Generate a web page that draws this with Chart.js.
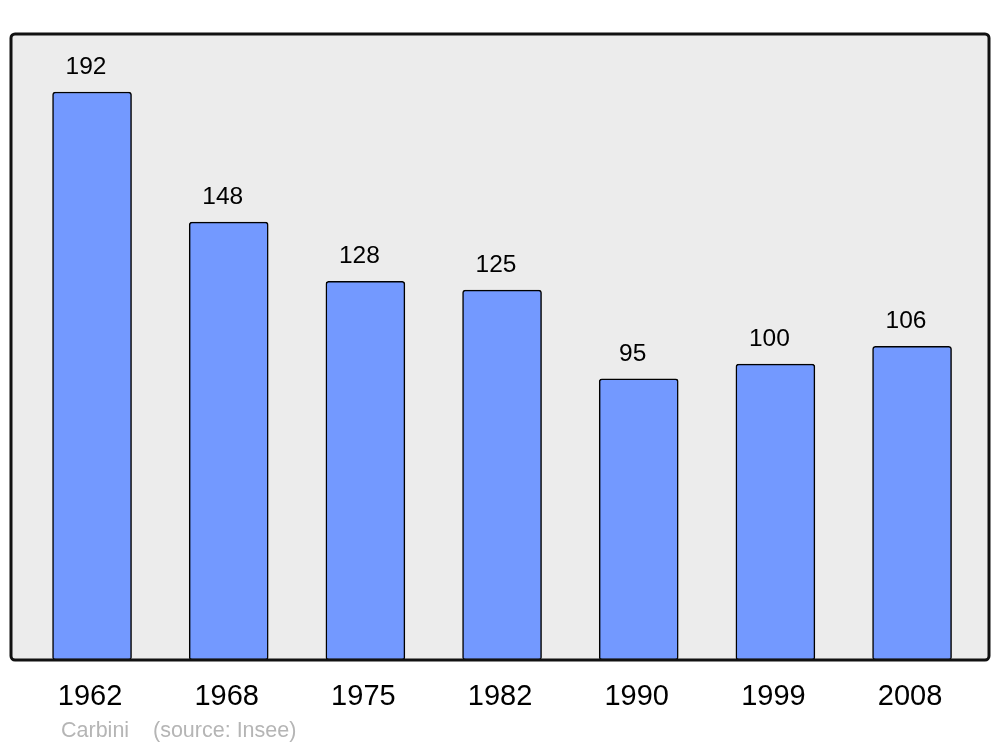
<!DOCTYPE html>
<html>
<head>
<meta charset="utf-8">
<script src="https://cdn.jsdelivr.net/npm/chart.js@4/dist/chart.umd.min.js"></script>
<style>
  html, body { margin: 0; padding: 0; background: #fff; }
  #wrap { width: 1000px; height: 747px; }
</style>
</head>
<body>
<div id="wrap"><canvas id="myChart" width="1000" height="747"></canvas></div>
<script>
const years = ['1962', '1968', '1975', '1982', '1990', '1999', '2008'];
const population = [192, 148, 128, 125, 95, 100, 106];
const townName = 'Carbini';
const sourceText = '(source: Insee)';

// background box + labels, all placed from the chart's scales
const decorations = {
    id: 'decorations',
    beforeDatasetsDraw(chart) {
        const { ctx, chartArea: a } = chart;
        ctx.save();
        ctx.beginPath();
        ctx.roundRect(a.left, a.top, a.right - a.left, a.bottom - a.top, 4);
        ctx.fillStyle = '#ececec';
        ctx.fill();
        ctx.restore();
    },
    afterDatasetsDraw(chart) {
        const { ctx, chartArea: a, scales } = chart;
        ctx.save();
        ctx.beginPath();
        ctx.roundRect(a.left, a.top, a.right - a.left, a.bottom - a.top, 4);
        ctx.lineWidth = 3;
        ctx.strokeStyle = '#111';
        ctx.stroke();

        ctx.textAlign = 'center';
        ctx.textBaseline = 'middle';
        ctx.fillStyle = '#000';
        population.forEach((v, i) => {
            const x = scales.x.getPixelForValue(i);
            ctx.font = '24.5px "Liberation Sans", Arial, sans-serif';
            ctx.fillText(String(v), x - 6, scales.y.getPixelForValue(v) - 25);
            ctx.font = '29px "Liberation Sans", Arial, sans-serif';
            ctx.fillText(years[i], x - 2, 697);
        });

        ctx.textAlign = 'left';
        ctx.fillStyle = '#b5b5b5';
        ctx.font = '21.5px "Liberation Sans", Arial, sans-serif';
        ctx.fillText(townName, 61, 731);
        ctx.fillText(sourceText, 153, 731);
        ctx.restore();
    }
};

let ctx = document.getElementById('myChart').getContext('2d');
let chart = new Chart(ctx, {
    type: 'bar',
    data: {
        datasets: [{
            data: population.map((v, i) => ({ x: i, y: v })),
            backgroundColor: '#7399ff',
            borderColor: '#000',
            borderWidth: 1.5,
            borderRadius: 3,
            borderSkipped: false,
            barThickness: 79
        }]
    },
    options: {
        responsive: false,
        animation: false,
        layout: { padding: { left: 11, right: 11, top: 34, bottom: 87 } },
        plugins: { legend: { display: false }, tooltip: { enabled: false } },
        scales: {
            x: { type: 'linear', min: -0.593, max: 6.563, offset: false, display: false },
            y: { min: 0, max: 211.6, display: false }
        }
    },
    plugins: [decorations]
});
</script>
</body>
</html>
